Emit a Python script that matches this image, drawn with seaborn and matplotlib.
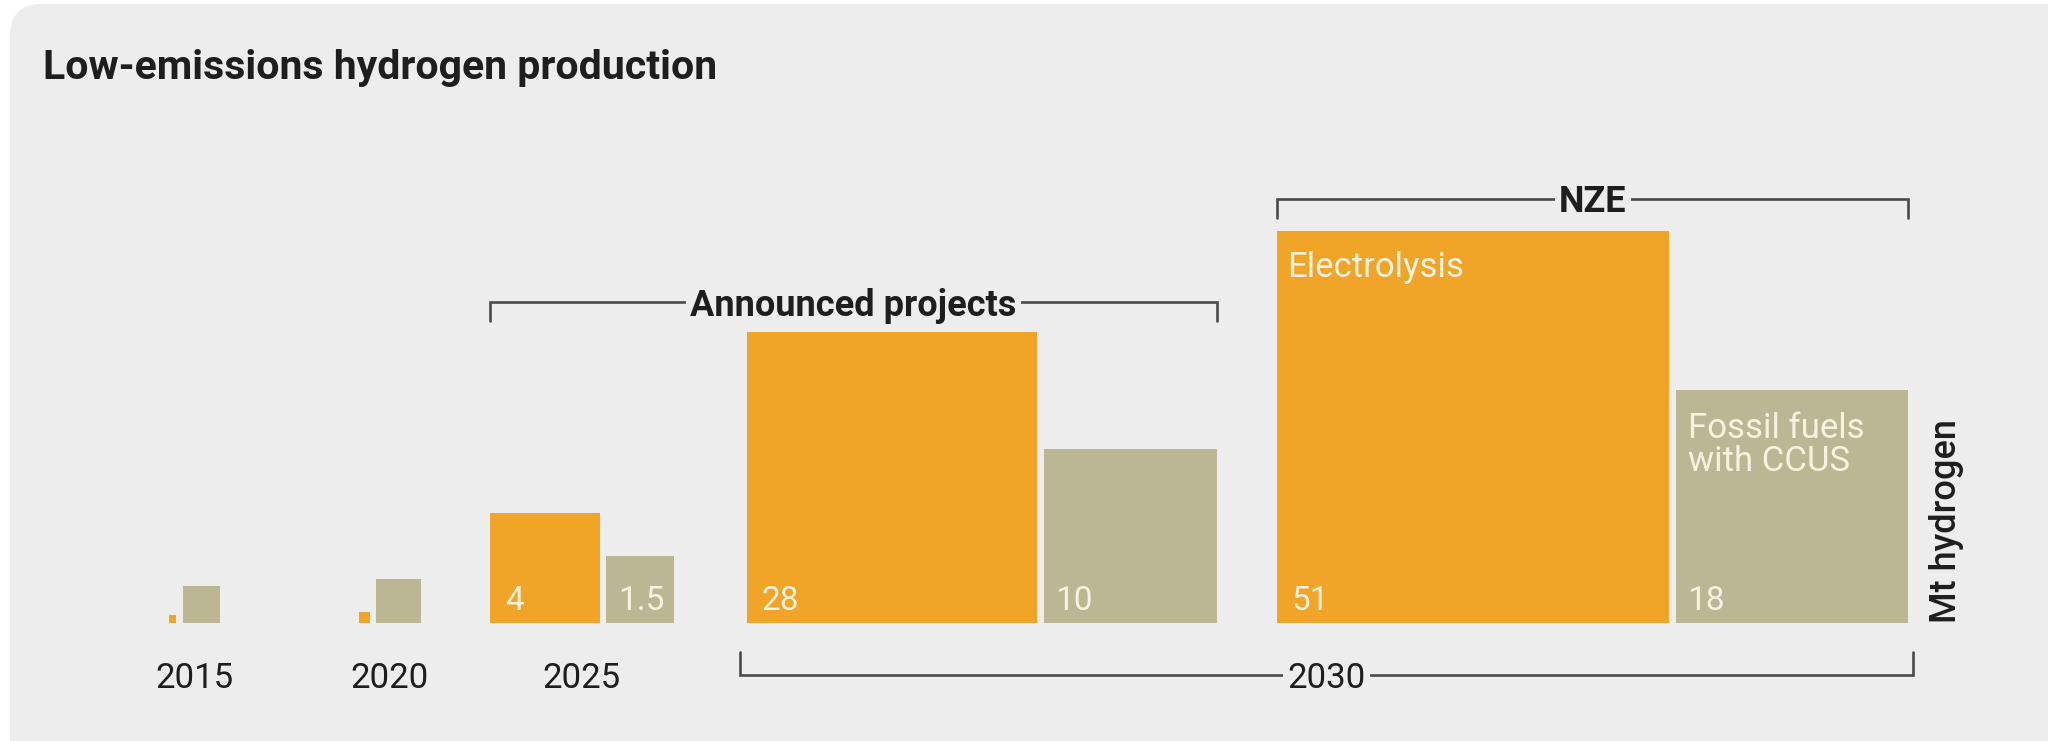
import matplotlib
matplotlib.use("Agg")
import matplotlib.pyplot as plt
from matplotlib.patches import FancyBboxPatch
import seaborn as sns

# Low-emissions hydrogen production (Mt hydrogen)
groups = ["2015", "2020", "2025", "Announced projects", "NZE"]
year_labels = ["2015", "2020", "2025"]
electrolysis = [0.02, 0.04, 4, 28, 51]
fossil_ccus = [0.45, 0.65, 1.5, 10, 18]
value_labels_e = ["", "", "4", "28", "51"]
value_labels_f = ["", "", "1.5", "10", "18"]

sns.set_theme(style="white")
plt.rcParams["font.family"] = ["Roboto", "DejaVu Sans"]

ORANGE = "#F0A528"
KHAKI = "#BBB693"
PANEL = "#EDEDED"
INK = "#1E1E1E"
LINE = "#4A4A4A"
LABEL = "#F8F1DF"

W, H = 2048, 741
fig = plt.figure(figsize=(W / 100, H / 100), dpi=100)
fig.patch.set_facecolor("white")
ax = fig.add_axes([0, 0, 1, 1])
ax.set_xlim(0, W)
ax.set_ylim(H, 0)
ax.axis("off")

# rounded background panel
ax.add_patch(FancyBboxPatch((10, 4), W + 40, H + 40,
                            boxstyle="round,pad=0,rounding_size=32",
                            fc=PANEL, ec="none", zorder=0))

# squares: side proportional to sqrt(value), so area encodes the value
k = 54.9          # px per sqrt(Mt)
base = 623        # common baseline
gap = 6.5
anchors = [168.5, 359, 490, 746.5, 1277]

lefts_e, sides_e, lefts_f, sides_f = [], [], [], []
for a, e, f in zip(anchors, electrolysis, fossil_ccus):
    se = k * e ** 0.5
    sf = k * f ** 0.5
    lefts_e.append(a); sides_e.append(se)
    lefts_f.append(a + se + gap); sides_f.append(sf)

ax.bar(lefts_e, sides_e, width=sides_e, bottom=[base - s for s in sides_e],
       align="edge", color=ORANGE, linewidth=0, zorder=2)
ax.bar(lefts_f, sides_f, width=sides_f, bottom=[base - s for s in sides_f],
       align="edge", color=KHAKI, linewidth=0, zorder=2)

for x, t in zip(lefts_e, value_labels_e):
    if t:
        ax.text(x + 15, base - 13, t, color=LABEL, fontsize=24,
                ha="left", va="baseline", zorder=3)
for x, t in zip(lefts_f, value_labels_f):
    if t:
        ax.text(x + 12, base - 13, t, color=LABEL, fontsize=24,
                ha="left", va="baseline", zorder=3)

# series names inside the NZE squares
ax.text(lefts_e[4] + 10, base - sides_e[4] + 20, "Electrolysis", color=LABEL,
        fontsize=25, ha="left", va="top", zorder=3)
ax.text(lefts_f[4] + 12, base - sides_f[4] + 22, "Fossil fuels\nwith CCUS",
        color=LABEL, fontsize=25, ha="left", va="top",
        linespacing=1.0, zorder=3)

# year labels under the single-year groups
for i, yl in enumerate(year_labels):
    cx = (lefts_e[i] + lefts_f[i] + sides_f[i]) / 2
    ax.text(cx, 678, yl, color=INK, fontsize=25, ha="center", va="center")


def bracket(x0, x1, y, tick, label, bold, size):
    ax.plot([x0, x0, x1, x1], [y + tick, y, y, y + tick], color=LINE,
            lw=1.9, solid_joinstyle="miter", zorder=1)
    ax.text((x0 + x1) / 2, y, label, color=INK, fontsize=size,
            fontweight="bold" if bold else "normal", ha="center",
            va="center_baseline", zorder=2,
            bbox=dict(fc=PANEL, ec="none", pad=3))


# scenario brackets above, 2030 bracket below
ap_right = lefts_f[3] + sides_f[3]
nze_right = lefts_f[4] + sides_f[4]
bracket(lefts_e[2], ap_right, 302, 19, "Announced projects", True, 26)
bracket(lefts_e[4], nze_right, 198.5, 19, "NZE", True, 26)
bracket(740, 1913, 675, -23, "2030", False, 25)

ax.text(1946, base, "Mt hydrogen", color=INK, fontsize=26, rotation=90,
        fontweight="medium", ha="center", va="bottom")

ax.text(43, 68, "Low-emissions hydrogen production", color=INK, fontsize=29.5,
        fontweight="bold", ha="left", va="center")

fig.savefig("out.png", dpi=100, facecolor="white")
